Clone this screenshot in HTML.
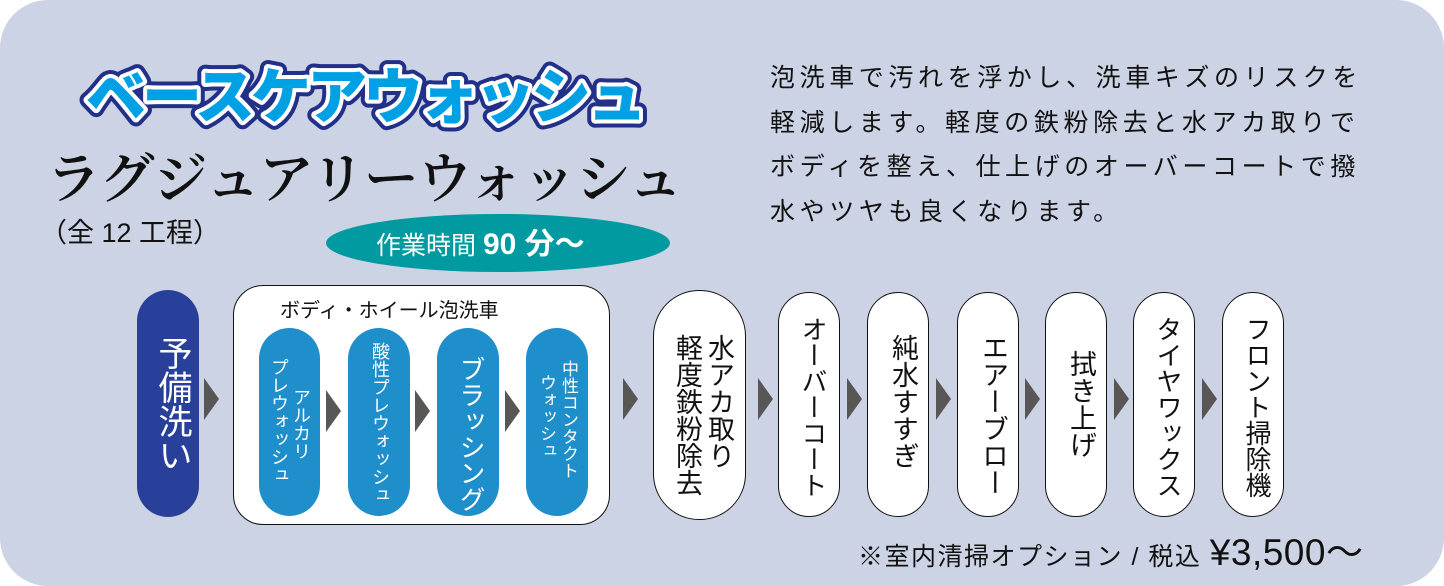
<!DOCTYPE html>
<html><head><meta charset="utf-8"><style>
body{margin:0;background:#fff;}
#c{position:relative;width:1444px;height:586px;background:#ccd3e4;border-radius:48px;overflow:hidden;font-family:"Liberation Sans","Noto Sans CJK JP",sans-serif;color:#111;}
.a{position:absolute;}
.pill{position:absolute;border-radius:32px;box-sizing:border-box;}
.w{background:#fff;border:1.5px solid #111;}
.b{background:#1e8fcb;color:#fff;}
.v{position:absolute;writing-mode:vertical-rl;white-space:nowrap;}
.tri{position:absolute;width:0;height:0;border-top:21px solid transparent;border-bottom:21px solid transparent;border-left:15px solid #595755;}
</style></head><body><div id="c">
<svg class="a" style="left:0;top:0" width="720" height="280">
<g font-family="Noto Sans CJK JP" font-weight="900" font-size="60" letter-spacing="-4">
<text x="86" y="118" stroke="#22308a" stroke-width="16" stroke-linejoin="round" fill="#22308a">ベースケアウォッシュ</text>
<text x="86" y="118" stroke="#fff" stroke-width="8" stroke-linejoin="round" fill="#fff">ベースケアウォッシュ</text>
<text x="86" y="118" fill="#00a0e4">ベースケアウォッシュ</text>
</g>
<text x="46" y="198" font-family="Noto Serif CJK JP,Noto Serif CJK SC" font-weight="600" font-size="55" letter-spacing="-1.5" fill="#111">ラグジュアリーウォッシュ</text>
<text x="40" y="242" font-family="Liberation Sans,Noto Sans CJK JP" font-size="27" fill="#111">（全 12 工程）</text>
<ellipse cx="498" cy="243" rx="172" ry="29" fill="#009aa0"/>
<text x="376" y="254" font-family="Liberation Sans,Noto Sans CJK JP" font-size="25" fill="#fff">作業時間 <tspan font-weight="bold" font-size="30">90 分〜</tspan></text>
</svg>
<div class="a" style="left:770px;top:56px;width:600px;font-size:25px;letter-spacing:4.6px;line-height:44.5px;white-space:nowrap;">泡洗車で汚れを浮かし、洗車キズのリスクを<br>軽減します。軽度の鉄粉除去と水アカ取りで<br>ボディを整え、仕上げのオーバーコートで撥<br>水やツヤも良くなります。</div>

<div class="pill" style="left:137px;top:290px;width:62px;height:227px;background:#29409a;"></div>
<div class="v" style="left:148px;top:336px;color:#fff;font-size:34px;">予備洗い</div>
<div class="tri" style="left:204px;top:378px"></div>

<div class="a" style="left:233px;top:285px;width:377px;height:240px;box-sizing:border-box;border:1.5px solid #111;border-radius:30px;background:#fff;"></div>
<div class="a" style="left:280px;top:294px;font-size:20px;">ボディ・ホイール泡洗車</div>
<div class="pill b" style="left:259px;top:328px;width:61px;height:188px;"></div>
<div class="v" style="left:288px;top:388px;color:#fff;font-size:18px;">アルカリ</div>
<div class="v" style="left:266px;top:358px;color:#fff;font-size:18px;">プレウォッシュ</div>
<div class="tri" style="left:326px;top:390px"></div>
<div class="pill b" style="left:348px;top:328px;width:62px;height:188px;"></div>
<div class="v" style="left:367px;top:342px;color:#fff;font-size:18px;">酸性プレウォッシュ</div>
<div class="tri" style="left:415px;top:390px"></div>
<div class="pill b" style="left:437px;top:328px;width:62px;height:188px;"></div>
<div class="v" style="left:453px;top:356px;color:#fff;font-size:26px;">ブラッシング</div>
<div class="tri" style="left:505px;top:390px"></div>
<div class="pill b" style="left:526px;top:328px;width:62px;height:188px;"></div>
<div class="v" style="left:556px;top:360px;color:#fff;font-size:17px;">中性コンタクト</div>
<div class="v" style="left:534px;top:374px;color:#fff;font-size:17px;">ウォッシュ</div>
<div class="tri" style="left:623px;top:378px"></div>

<div class="pill w" style="left:653px;top:290px;width:93px;height:230px;border-radius:46px;"></div>
<div class="v" style="left:700px;top:334px;font-size:27px;">水アカ取り</div>
<div class="v" style="left:668px;top:334px;font-size:27px;">軽度鉄粉除去</div>
<div class="tri" style="left:758px;top:378px"></div>

<div class="pill w" style="left:778px;top:292px;width:62px;height:225px;"></div>
<div class="v" style="left:795px;top:316px;font-size:26px;">オーバーコート</div>
<div class="tri" style="left:847px;top:378px"></div>
<div class="pill w" style="left:867px;top:292px;width:62px;height:225px;"></div>
<div class="v" style="left:884px;top:334px;font-size:27px;">純水すすぎ</div>
<div class="tri" style="left:936px;top:378px"></div>
<div class="pill w" style="left:957px;top:292px;width:62px;height:225px;"></div>
<div class="v" style="left:974px;top:334px;font-size:27px;">エアーブロー</div>
<div class="tri" style="left:1025px;top:378px"></div>
<div class="pill w" style="left:1045px;top:292px;width:62px;height:225px;"></div>
<div class="v" style="left:1062px;top:350px;font-size:27px;">拭き上げ</div>
<div class="tri" style="left:1114px;top:378px"></div>
<div class="pill w" style="left:1133px;top:292px;width:62px;height:225px;"></div>
<div class="v" style="left:1150px;top:316px;font-size:26px;">タイヤワックス</div>
<div class="tri" style="left:1202px;top:378px"></div>
<div class="pill w" style="left:1222px;top:292px;width:62px;height:225px;"></div>
<div class="v" style="left:1239px;top:316px;font-size:26px;">フロント掃除機</div>

<div class="a" style="left:858px;top:522px;font-size:25px;letter-spacing:1.5px;white-space:nowrap;">※室内清掃オプション / 税込 <span style="font-size:37px;letter-spacing:0.5px;">¥3,500〜</span></div>
</div></body></html>
